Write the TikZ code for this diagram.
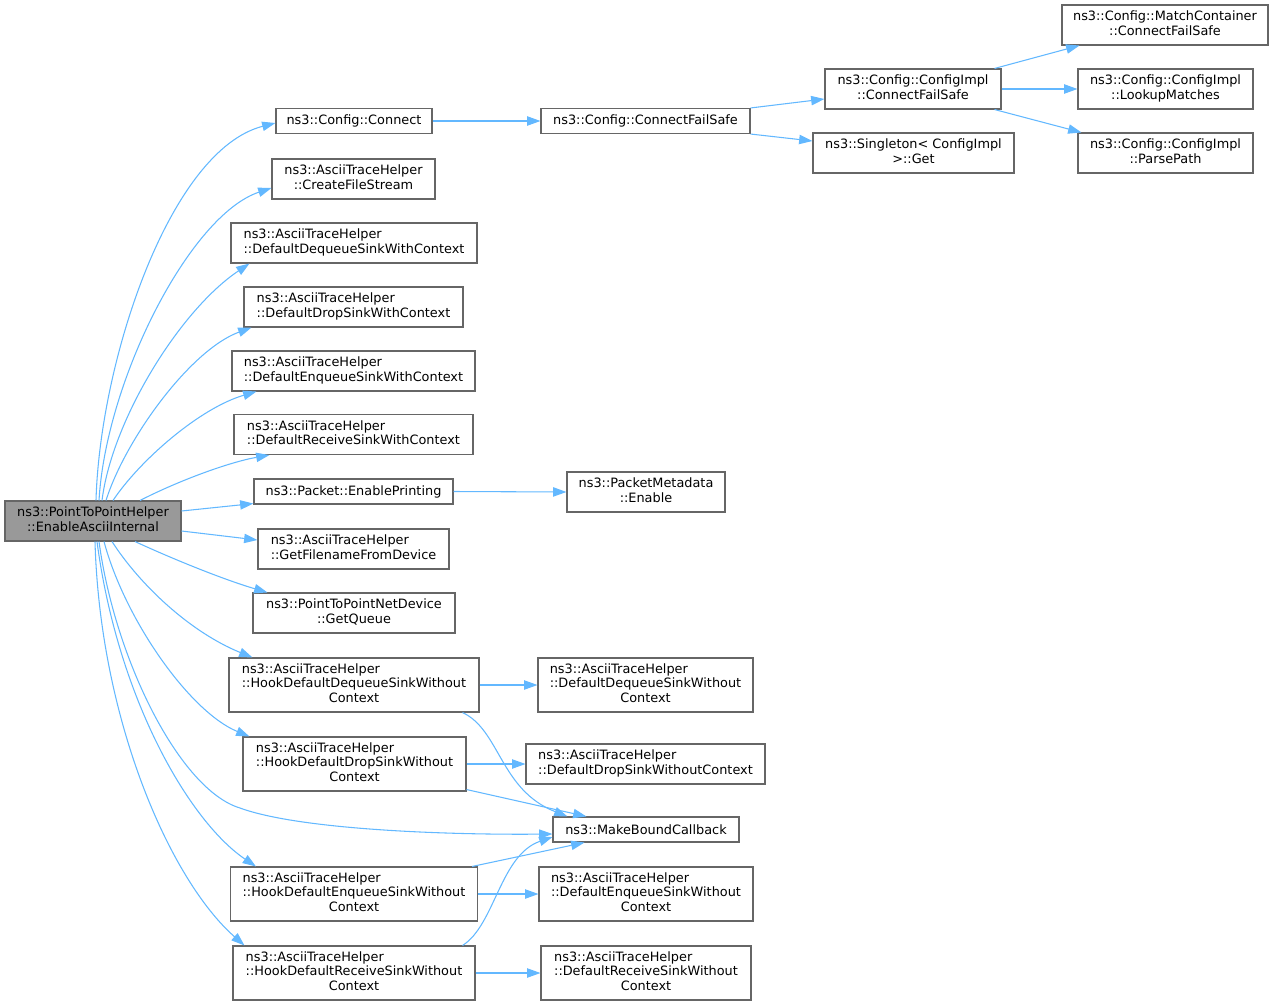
\documentclass[tikz,border=0pt]{standalone}
\usepackage{fontspec}
\setmainfont{DejaVu Sans}
\usetikzlibrary{arrows.meta,calc}
\definecolor{edgeblue}{HTML}{63B8FF}
\definecolor{boxborder}{HTML}{666666}
\definecolor{mainfill}{HTML}{999999}
\newcommand\lblL[1]{\begin{tabular}{@{}l@{}}#1\end{tabular}}
\newcommand\lblC[1]{\begin{tabular}{@{}c@{}}#1\end{tabular}}
\newcommand\ctrline[1]{\multicolumn{1}{@{}c@{}}{#1}}
\tikzset{
  box/.style={draw=boxborder, fill=white, line width=0.8pt, inner sep=0pt,
    font=\fontsize{9.65}{10.9}\selectfont},
  mainbox/.style={box, fill=mainfill},
  sz/.style 2 args={minimum width=#1*0.75pt, minimum height=#2*0.75pt},
  edge/.style={draw=edgeblue, line width=0.8pt,
    -{Triangle[length=10pt,width=7pt]}},
}
\begin{document}
\begin{tikzpicture}[x=0.75pt,y=-0.75pt]
\path[use as bounding box] (0,0) rectangle (1273,1006);

% nodes
\node[mainbox, sz={176}{40}] (main) at (93,521) {\lblC{ns3::PointToPointHelper\\::EnableAsciiInternal}};
\node[box, sz={156}{25}] (connect) at (354,121) {ns3::Config::Connect};
\node[box, sz={163}{40}] (cfstream) at (353.5,179) {\lblC{ns3::AsciiTraceHelper\\::CreateFileStream}};
\node[box, sz={246}{40}] (ddeqwc) at (354,243) {\lblL{ns3::AsciiTraceHelper\\::DefaultDequeueSinkWithContext}};
\node[box, sz={219}{40}] (ddropwc) at (353.5,307) {\lblL{ns3::AsciiTraceHelper\\::DefaultDropSinkWithContext}};
\node[box, sz={243}{40}] (denqwc) at (353.5,371) {\lblL{ns3::AsciiTraceHelper\\::DefaultEnqueueSinkWithContext}};
\node[box, sz={239}{40}] (drecwc) at (353.5,434.5) {\lblL{ns3::AsciiTraceHelper\\::DefaultReceiveSinkWithContext}};
\node[box, sz={199}{25}] (enprint) at (353.5,491.5) {ns3::Packet::EnablePrinting};
\node[box, sz={191}{40}] (getfn) at (353.5,549) {\lblL{ns3::AsciiTraceHelper\\::GetFilenameFromDevice}};
\node[box, sz={202}{40}] (getq) at (354,613) {\lblC{ns3::PointToPointNetDevice\\::GetQueue}};
\node[box, sz={250}{54}] (hookdeq) at (354,685) {\lblL{ns3::AsciiTraceHelper\\::HookDefaultDequeueSinkWithout\\\ctrline{Context}}};
\node[box, sz={223}{54}] (hookdrop) at (354.5,764) {\lblL{ns3::AsciiTraceHelper\\::HookDefaultDropSinkWithout\\\ctrline{Context}}};
\node[box, sz={247}{54}] (hookenq) at (354,894) {\lblL{ns3::AsciiTraceHelper\\::HookDefaultEnqueueSinkWithout\\\ctrline{Context}}};
\node[box, sz={242}{54}] (hookrec) at (354,973) {\lblL{ns3::AsciiTraceHelper\\::HookDefaultReceiveSinkWithout\\\ctrline{Context}}};

\node[box, sz={209}{25}] (cfs) at (645.5,121) {ns3::Config::ConnectFailSafe};
\node[box, sz={158}{40}] (pmeta) at (646,492) {\lblC{ns3::PacketMetadata\\::Enable}};
\node[box, sz={215}{54}] (ddeqwo) at (645.5,685) {\lblL{ns3::AsciiTraceHelper\\::DefaultDequeueSinkWithout\\\ctrline{Context}}};
\node[box, sz={239}{40}] (ddropwo) at (645.5,764) {\lblL{ns3::AsciiTraceHelper\\::DefaultDropSinkWithoutContext}};
\node[box, sz={186}{25}] (mbc) at (646,829.5) {ns3::MakeBoundCallback};
\node[box, sz={214}{54}] (denqwo) at (646,894) {\lblL{ns3::AsciiTraceHelper\\::DefaultEnqueueSinkWithout\\\ctrline{Context}}};
\node[box, sz={210}{54}] (drecwo) at (646,973) {\lblL{ns3::AsciiTraceHelper\\::DefaultReceiveSinkWithout\\\ctrline{Context}}};

\node[box, sz={176}{40}] (cimpl) at (913,89) {\lblC{ns3::Config::ConfigImpl\\::ConnectFailSafe}};
\node[box, sz={201}{40}] (single) at (913.5,153) {\lblC{ns3::Singleton< ConfigImpl\\>::Get}};
\node[box, sz={206}{40}] (match) at (1165,25) {\lblC{ns3::Config::MatchContainer\\::ConnectFailSafe}};
\node[box, sz={175}{40}] (lookup) at (1165.5,89) {\lblC{ns3::Config::ConfigImpl\\::LookupMatches}};
\node[box, sz={175}{40}] (parse) at (1165.5,153) {\lblC{ns3::Config::ConfigImpl\\::ParsePath}};

% edges from main (top)
\draw[edge] ($(main.north)+(3,0)$) .. controls (100,360) and (170,150) .. ($(connect.west)+(0,2)$);
\draw[edge] ($(main.north)+(6,0)$) .. controls (106,380) and (190,215) .. ($(cfstream.west)+(0,9)$);
\draw[edge] ($(main.north)+(9,0)$) .. controls (112,420) and (180,310) .. ($(ddeqwc.south west)+(19,0)$);
\draw[edge] ($(main.north)+(13,0)$) .. controls (125,440) and (190,350) .. ($(ddropwc.south west)+(8,0)$);
\draw[edge] ($(main.north)+(20,0)$) .. controls (140,460) and (200,408) .. ($(denqwc.south west)+(25,0)$);
\draw[edge] ($(main.north)+(47,0)$) .. controls (180,480) and (230,462) .. ($(drecwc.south west)+(36,0)$);
% edges from main (right)
\draw[edge] ($(main.east)+(0,-10)$) -- ($(enprint.south west)+(0,-1)$);
\draw[edge] ($(main.east)+(0,10)$) -- ($(getfn.west)+(0,-9)$);
% edges from main (bottom)
\draw[edge] ($(main.south)+(42,0)$) .. controls (175,560) and (225,580) .. ($(getq.north west)+(15,0)$);
\draw[edge] ($(main.south)+(19,0)$) .. controls (140,585) and (190,632) .. ($(hookdeq.north west)+(24,0)$);
\draw[edge] ($(main.south)+(11,0)$) .. controls (125,620) and (190,712) .. ($(hookdrop.north west)+(7,0)$);
\draw[edge] ($(main.south)+(6,0)$) .. controls (115,660) and (180,790) .. (240,808) .. controls (300,830) and (450,835) .. ($(mbc.west)+(0,4.5)$);
\draw[edge] ($(main.south)+(4,0)$) .. controls (118,700) and (190,822) .. ($(hookenq.north west)+(26,0)$);
\draw[edge] ($(main.south)+(2,0)$) .. controls (100,720) and (170,880) .. ($(hookrec.north west)+(12,0)$);

% secondary edges
\draw[edge] (connect.east) -- (cfs.west);
\draw[edge] (cfs.north east) -- ($(cimpl.west)+(0,10)$);
\draw[edge] (cfs.south east) -- ($(single.west)+(0,-12)$);
\draw[edge] ($(cimpl.north east)+(-7,0)$) -- ($(match.south west)+(18,0)$);
\draw[edge] (cimpl.east) -- (lookup.west);
\draw[edge] ($(cimpl.south east)+(-7,0)$) -- ($(parse.north west)+(4,0)$);
\draw[edge] (enprint.east) -- (pmeta.west);
\draw[edge] (hookdeq.east) -- (ddeqwo.west);
\draw[edge] ($(hookdeq.south east)+(-17,0)$) .. controls (500,730) and (500,790) .. ($(mbc.north west)+(15,0)$);
\draw[edge] (hookdrop.east) -- (ddropwo.west);
\draw[edge] ($(hookdrop.south east)+(0,-2)$) -- ($(mbc.north west)+(34,0)$);
\draw[edge] ($(hookenq.north east)+(-6,0)$) -- ($(mbc.south west)+(32,0)$);
\draw[edge] (hookenq.east) -- (denqwo.west);
\draw[edge] ($(hookrec.north east)+(-13,0)$) .. controls (495,925) and (500,855) .. ($(mbc.west)+(0,7.5)$);
\draw[edge] (hookrec.east) -- (drecwo.west);
\end{tikzpicture}
\end{document}
